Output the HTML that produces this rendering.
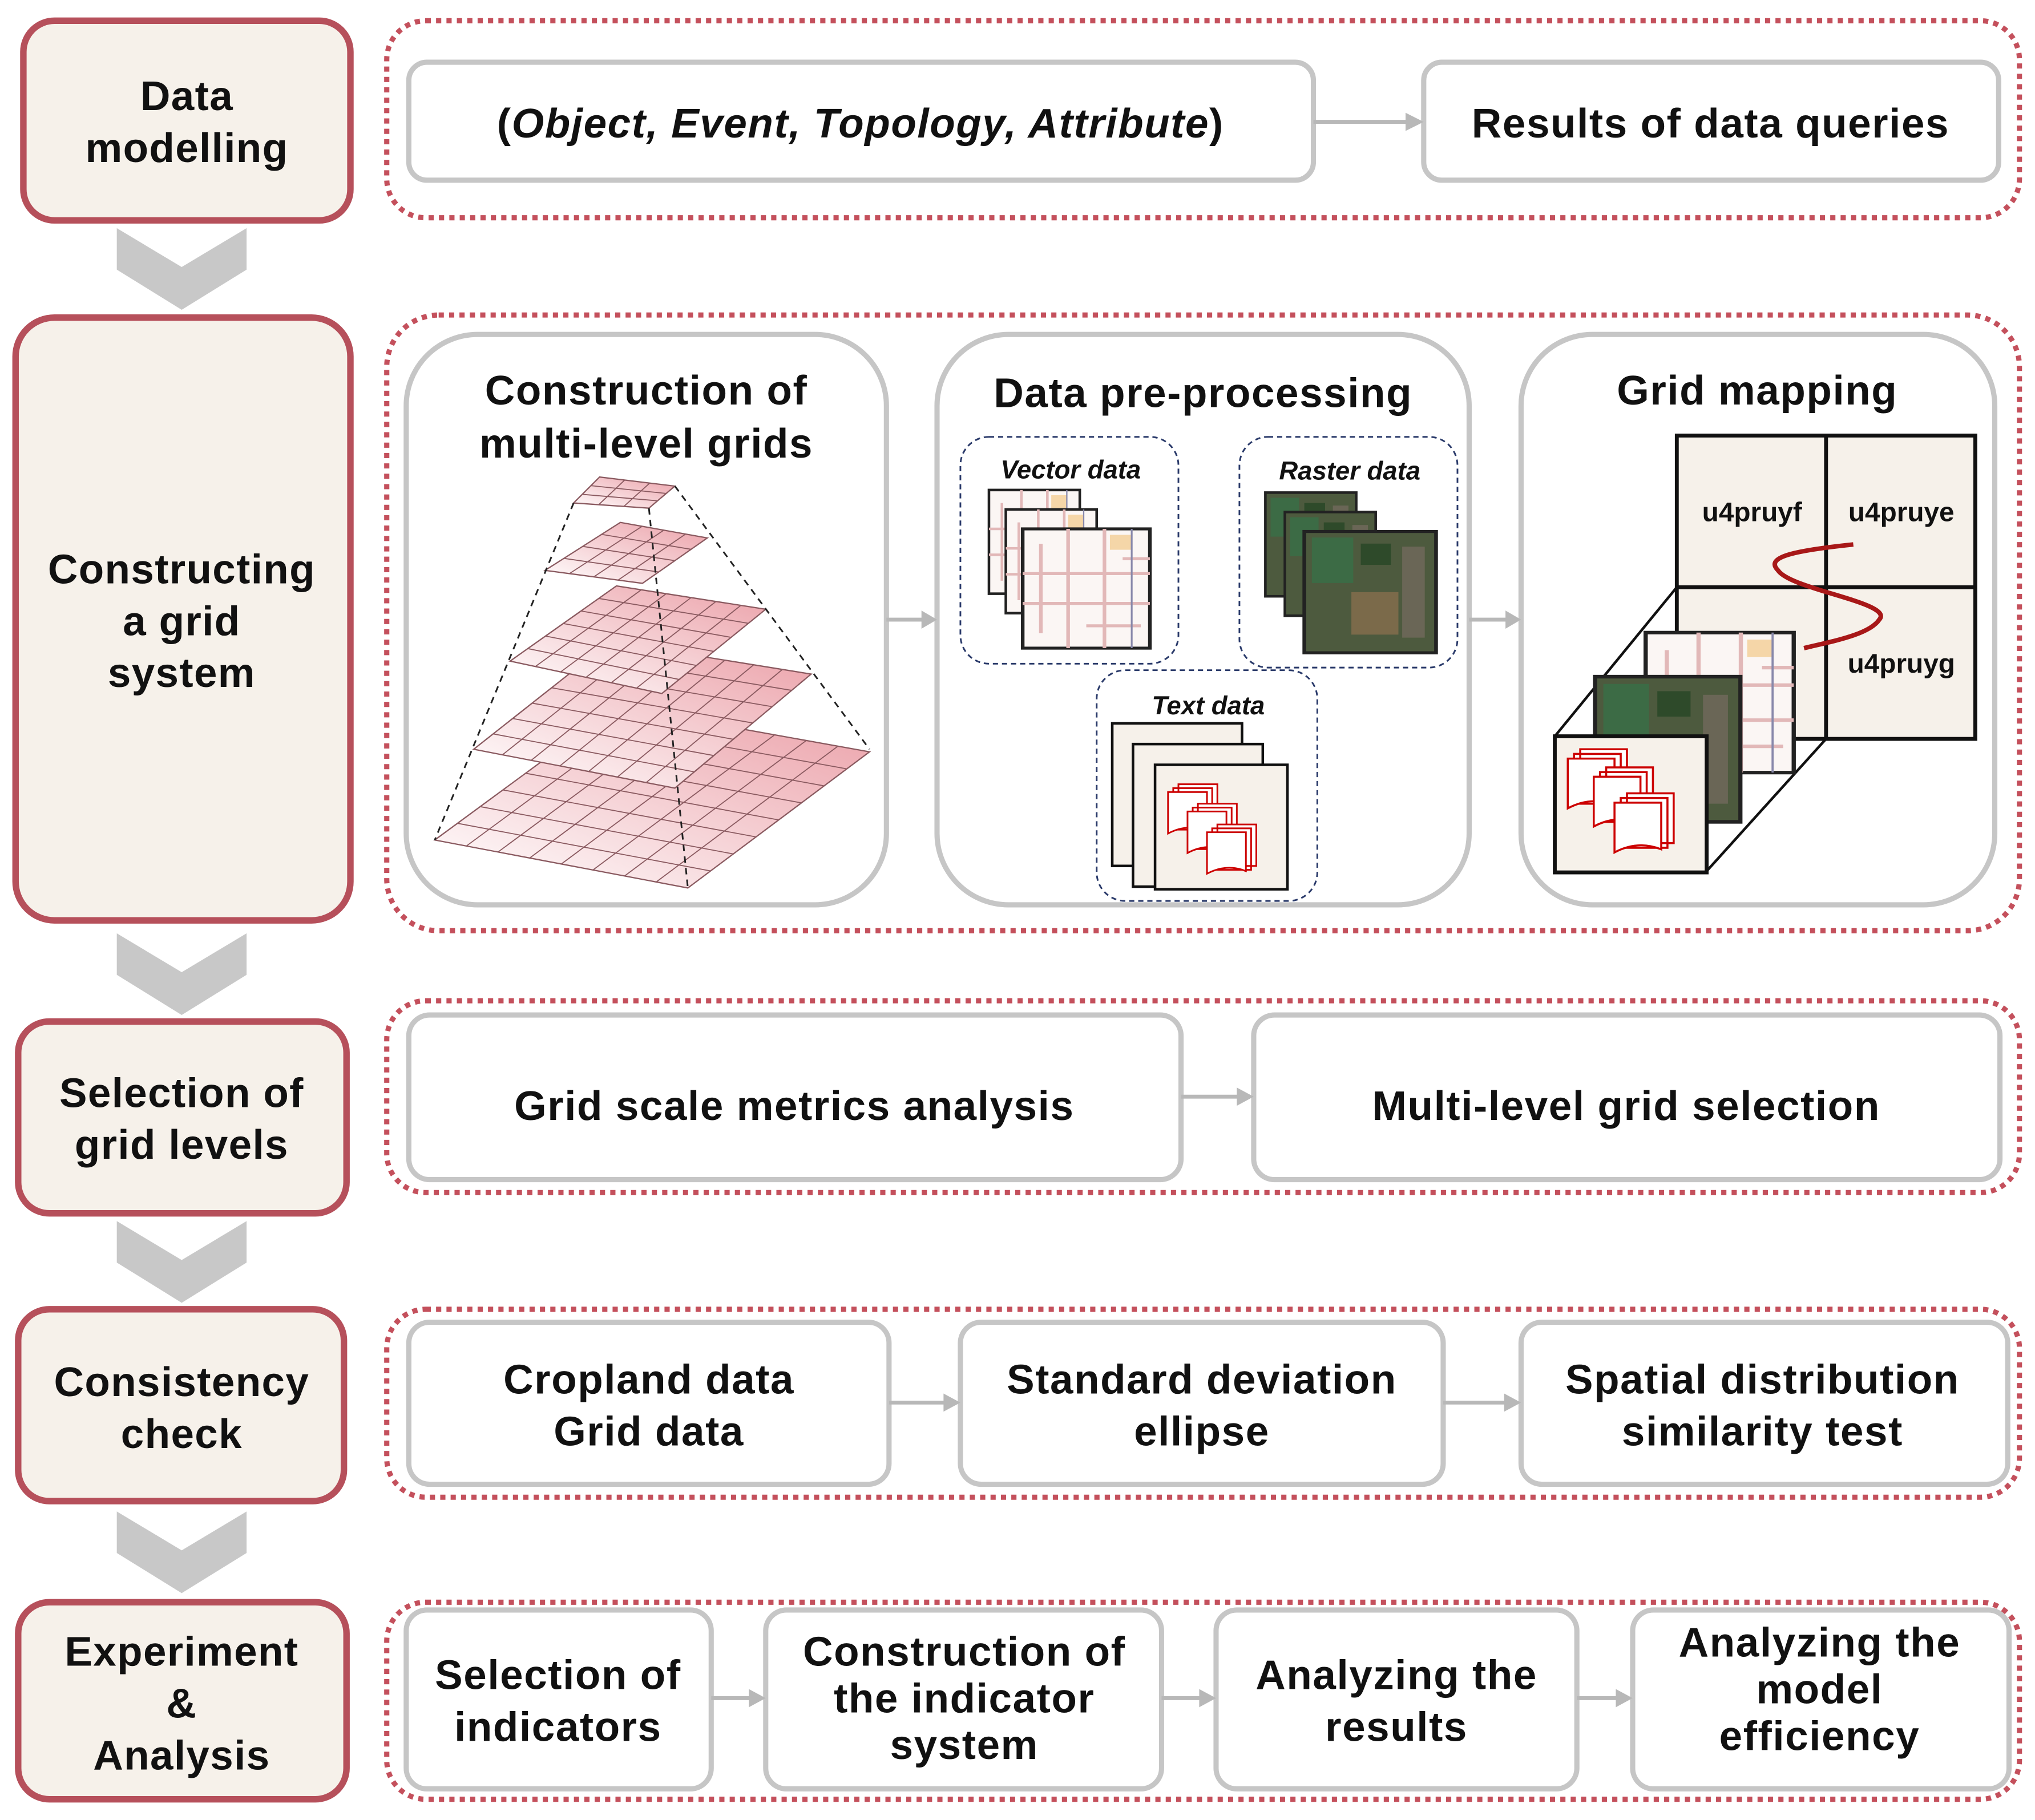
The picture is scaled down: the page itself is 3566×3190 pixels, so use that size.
<!DOCTYPE html>
<html><head><meta charset="utf-8"><style>
html,body{margin:0;padding:0;background:#fff}
svg{display:block}
text{font-family:"Liberation Sans",Arial,sans-serif;font-weight:bold;fill:#111}
</style></head><body>
<svg id="s" width="3566" height="3190" viewBox="0 0 1568 1404" preserveAspectRatio="none" xmlns="http://www.w3.org/2000/svg">
<defs>
<linearGradient id="pk" x1="0" y1="1" x2="1" y2="0">
<stop offset="0" stop-color="#fff"/><stop offset="1" stop-color="#eba0a8"/></linearGradient>
<g id="doc">
<path d="M8,0 h30 v32 h-30z M4,3 h30 v32 h-30z" fill="#fff" stroke="#c00" stroke-width="1.3"/>
<path d="M0,6 h30 v30 q-15,-6 -30,2z" fill="#fff" stroke="#c00" stroke-width="1.3"/>
</g>
<g id="map">
<rect width="70" height="80" fill="#fbf6f4" stroke="#222" stroke-width="2"/>
<path d="M10,10v60M25,0v80M45,0v80M0,30h70M0,50h70M55,20h15M35,65h30" stroke="#e2b8b8" stroke-width="2" fill="none"/>
<rect x="48" y="4" width="12" height="10" fill="#f5d6a8"/><line x1="60" y1="0" x2="60" y2="80" stroke="#88a" stroke-width="1"/>
</g>
<g id="sat">
<rect width="70" height="80" fill="#4d5a3e" stroke="#222" stroke-width="2"/>
<rect x="4" y="4" width="22" height="30" fill="#3c6b45"/><rect x="25" y="40" width="25" height="28" fill="#7b6a4a"/>
<rect x="30" y="8" width="16" height="14" fill="#2e4a2a"/><rect x="52" y="10" width="12" height="60" fill="#6a6656"/>
</g>
<g id="chev"><polygon points="0,0 50,30 100,0 100,32 50,63 0,32" fill="#c8c8c8"/></g>
</defs>

<g fill="#f6f1ea" stroke="#b6505b" stroke-width="5">
<rect x="18" y="16" width="252" height="154" rx="24"/>
<rect x="12" y="245" width="258" height="465" rx="30"/>
<rect x="14" y="788" width="253" height="148" rx="24"/>
<rect x="14" y="1010" width="251" height="148" rx="24"/>
<rect x="14" y="1236" width="253" height="152" rx="24"/>
</g>
<use href="#chev" x="90" y="176"/><use href="#chev" x="90" y="720"/><use href="#chev" x="90" y="942"/><use href="#chev" x="90" y="1166"/>
<g font-size="32" text-anchor="middle" letter-spacing="0.6">
<text x="144" y="85">Data</text><text x="144" y="125">modelling</text>
<text x="140" y="450">Constructing</text><text x="140" y="490">a grid</text><text x="140" y="530">system</text>
<text x="140" y="854">Selection of</text><text x="140" y="894">grid levels</text>
<text x="140" y="1077">Consistency</text><text x="140" y="1117">check</text>
<text x="140" y="1285">Experiment</text><text x="140" y="1325">&amp;</text><text x="140" y="1365">Analysis</text>
</g>

<g fill="none" stroke="#c4505c" stroke-width="4" stroke-dasharray="4 4">
<rect x="298" y="16" width="1258" height="152" rx="30"/>
<rect x="298" y="243" width="1258" height="475" rx="40"/>
<rect x="298" y="772" width="1258" height="148" rx="30"/>
<rect x="298" y="1010" width="1258" height="145" rx="30"/>
<rect x="298" y="1236" width="1258" height="152" rx="30"/>
</g>

<g fill="#fff" stroke="#c6c6c6" stroke-width="4">
<rect x="315" y="48" width="697" height="91" rx="14"/><rect x="1097" y="48" width="443" height="91" rx="14"/>
<rect x="313" y="258" width="370" height="440" rx="55"/><rect x="722" y="258" width="410" height="440" rx="55"/><rect x="1172" y="258" width="365" height="440" rx="55"/>
<rect x="315" y="783" width="595" height="127" rx="16"/><rect x="966" y="783" width="575" height="127" rx="16"/>
<rect x="315" y="1020" width="370" height="125" rx="16"/><rect x="740" y="1020" width="372" height="125" rx="16"/><rect x="1172" y="1020" width="375" height="125" rx="16"/>
<rect x="313" y="1242" width="235" height="138" rx="16"/><rect x="590" y="1242" width="305" height="138" rx="16"/><rect x="937" y="1242" width="278" height="138" rx="16"/><rect x="1258" y="1242" width="290" height="138" rx="16"/>
</g>
<g stroke="#b8b8b8" stroke-width="3" fill="#b8b8b8">
<line x1="1012" y1="94" x2="1085" y2="94"/><polygon points="1083,87 1097,94 1083,101" stroke="none"/>
<line x1="683" y1="478" x2="712" y2="478"/><polygon points="710,471 722,478 710,485" stroke="none"/>
<line x1="1132" y1="478" x2="1162" y2="478"/><polygon points="1160,471 1172,478 1160,485" stroke="none"/>
<line x1="910" y1="846" x2="955" y2="846"/><polygon points="953,839 966,846 953,853" stroke="none"/>
<line x1="685" y1="1082" x2="729" y2="1082"/><polygon points="727,1075 740,1082 727,1089" stroke="none"/>
<line x1="1112" y1="1082" x2="1161" y2="1082"/><polygon points="1159,1075 1172,1082 1159,1089" stroke="none"/>
<line x1="548" y1="1310" x2="579" y2="1310"/><polygon points="577,1303 590,1310 577,1317" stroke="none"/>
<line x1="895" y1="1310" x2="926" y2="1310"/><polygon points="924,1303 937,1310 924,1317" stroke="none"/>
<line x1="1215" y1="1310" x2="1247" y2="1310"/><polygon points="1245,1303 1258,1310 1245,1317" stroke="none"/>
</g>

<g font-size="32" text-anchor="middle" letter-spacing="0.7">
<text x="663" y="106"><tspan>(</tspan><tspan font-style="italic">Object, Event, Topology, Attribute</tspan><tspan>)</tspan></text>
<text x="1318" y="106">Results of data queries</text>
<text x="498" y="312">Construction of</text><text x="498" y="353">multi-level grids</text>
<text x="927" y="314">Data pre-processing</text>
<text x="1354" y="312">Grid mapping</text>
<text x="612" y="864">Grid scale metrics analysis</text>
<text x="1253" y="864">Multi-level grid selection</text>
<text x="500" y="1075">Cropland data</text><text x="500" y="1115">Grid data</text>
<text x="926" y="1075">Standard deviation</text><text x="926" y="1115">ellipse</text>
<text x="1358" y="1075">Spatial distribution</text><text x="1358" y="1115">similarity test</text>
<text x="430" y="1303">Selection of</text><text x="430" y="1343">indicators</text>
<text x="743" y="1285">Construction of</text><text x="743" y="1321">the indicator</text><text x="743" y="1357">system</text>
<text x="1076" y="1303">Analyzing the</text><text x="1076" y="1343">results</text>
<text x="1402" y="1278">Analyzing the</text><text x="1402" y="1314">model</text><text x="1402" y="1350">efficiency</text>
</g>

<g id="pyr"></g>
<g stroke="#222" stroke-width="1.3" stroke-dasharray="5 4" fill="none">
<line x1="442" y1="388" x2="335" y2="648"/><line x1="520" y1="375" x2="670" y2="578"/><line x1="500" y1="392" x2="530" y2="685"/>
</g>

<g fill="none" stroke="#2a3a6a" stroke-width="1.3" stroke-dasharray="4 3">
<rect x="740" y="337" width="168" height="175" rx="22"/><rect x="955" y="337" width="168" height="178" rx="22"/><rect x="845" y="517" width="170" height="178" rx="22"/>
</g>
<g font-size="20" font-style="italic" text-anchor="middle">
<text x="825" y="369">Vector data</text><text x="1040" y="370">Raster data</text><text x="931" y="551">Text data</text>
</g>
<use href="#map" x="762" y="378"/><use href="#map" x="775" y="393"/><g transform="translate(788,408) scale(1.4,1.15)"><use href="#map"/></g>
<use href="#sat" x="975" y="380"/><use href="#sat" x="990" y="395"/><g transform="translate(1005,410) scale(1.45,1.17)"><use href="#sat"/></g>
<g fill="#f6f1ea" stroke="#111" stroke-width="2">
<rect x="857" y="558" width="100" height="110"/><rect x="873" y="574" width="100" height="110"/><rect x="890" y="590" width="102" height="96"/>
</g>
<use href="#doc" x="900" y="605"/><use href="#doc" x="915" y="620"/><use href="#doc" x="930" y="636"/>

<g stroke="#111" stroke-width="3" fill="#f6f1ea">
<rect x="1292" y="336" width="230" height="234"/>
<line x1="1407" y1="336" x2="1407" y2="570"/><line x1="1292" y1="453" x2="1522" y2="453"/>
</g>
<g stroke="#111" stroke-width="2" fill="none">
<line x1="1198" y1="568" x2="1292" y2="453"/><line x1="1315" y1="672" x2="1407" y2="570"/>
</g>
<g transform="translate(1268,488) scale(1.63,1.35)"><use href="#map"/></g>
<g transform="translate(1229,522) scale(1.6,1.4)"><use href="#sat"/></g>
<rect x="1198" y="568" width="117" height="105" fill="#f6f1ea" stroke="#111" stroke-width="3"/>
<g transform="translate(1208,578) scale(1.2)"><use href="#doc"/></g>
<g transform="translate(1228,592) scale(1.2)"><use href="#doc"/></g>
<g transform="translate(1244,612) scale(1.2)"><use href="#doc"/></g>
<path d="M1428,420 C1380,425 1360,430 1370,440 C1380,455 1460,465 1448,478 C1440,490 1410,495 1390,500" fill="none" stroke="#a81818" stroke-width="3.5"/>
<g font-size="21" text-anchor="middle"><text x="1350" y="402">u4pruyf</text><text x="1465" y="402">u4pruye</text><text x="1465" y="519">u4pruyg</text></g>
</svg>
<script>
var layers=[
[[335,648],[530,685],[670,580],[475,545]],
[[365,578],[520,608],[625,520],[470,495]],
[[393,510],[510,535],[590,470],[475,452]],
[[420,440],[495,450],[545,415],[478,403]],
[[442,388],[500,392],[520,375],[462,368]]];
var g=document.getElementById("pyr"),h="";
function L(a,b,t){return[a[0]+(b[0]-a[0])*t,a[1]+(b[1]-a[1])*t];}
layers.forEach(function(q,i){
var n=[8,7,6,4,3][i];
h+='<polygon points="'+q.map(function(p){return p.join(",")}).join(" ")+'" fill="url(#pk)" stroke="#8a5a60" stroke-width="1"/>';
for(var k=1;k<n;k++){var t=k/n;
var a=L(q[0],q[1],t),b=L(q[3],q[2],t),c=L(q[0],q[3],t),d=L(q[1],q[2],t);
h+='<line x1="'+a[0]+'" y1="'+a[1]+'" x2="'+b[0]+'" y2="'+b[1]+'" stroke="#8a5a60" stroke-width="0.8"/>';
h+='<line x1="'+c[0]+'" y1="'+c[1]+'" x2="'+d[0]+'" y2="'+d[1]+'" stroke="#8a5a60" stroke-width="0.8"/>';}
});
g.innerHTML=h;
</script>
</body></html>
